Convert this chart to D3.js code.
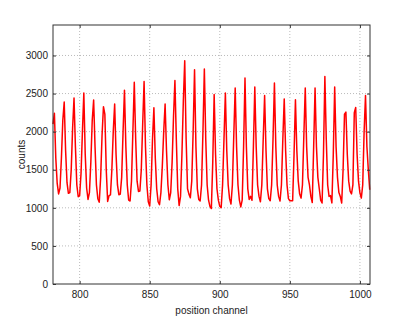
<!DOCTYPE html>
<html>
<head>
<meta charset="utf-8">
<script src="https://cdn.jsdelivr.net/npm/d3@7"></script>
<style>
  body { margin: 0; background: #fff; }
  text { font-family: "Liberation Sans", Arial, sans-serif; }
</style>
</head>
<body>
<div id="chart"></div>
<script>
// counts per channel, starting at channel 781
var firstChannel = 781;
var counts = [
  2100, 2240, 1650, 1320, 1183, 1260, 1650, 2150, 2388, 1750,
  1330, 1190, 1200, 1500, 2050, 2441, 1800, 1300, 1145, 1160,
  1450, 2000, 2506, 1700, 1260, 1110, 1200, 1600, 2150, 2415,
  1800, 1300, 1120, 1075, 1400, 1950, 2327, 2230, 1500, 1084,
  1160, 1170, 1500, 2000, 2364, 1700, 1300, 1172, 1180, 1400,
  2000, 2545, 1800, 1300, 1100, 1090, 1350, 2000, 2648, 1900,
  1350, 1215, 1220, 1500, 2100, 2657, 1800, 1300, 1080, 1025,
  1300, 1900, 2314, 1650, 1250, 1080, 1041, 1200, 1550, 2000,
  2364, 1750, 1300, 1106, 1200, 1600, 2200, 2670, 1900, 1250,
  1030, 1150, 1700, 2400, 2930, 1900, 1250, 1180, 1132, 1350,
  2000, 2812, 1800, 1250, 1110, 1090, 1300, 2000, 2823, 1900,
  1300, 1100, 1020, 990, 1600, 2488, 1700, 1250, 1100, 1020,
  1003, 1300, 1900, 2506, 1750, 1300, 1120, 1050, 1300, 1950,
  2572, 1800, 1300, 1100, 1012, 1100, 1800, 2705, 1800, 1250,
  1110, 1150, 1100, 1800, 2585, 1800, 1300, 1150, 1080, 1300,
  1900, 2475, 1750, 1250, 1120, 1093, 1300, 1900, 2638, 1800,
  1300, 1150, 1090, 1300, 1900, 2430, 1750, 1300, 1120, 1093,
  1093, 1093, 1700, 2419, 1750, 1350, 1180, 1128, 1300, 1950,
  2572, 1800, 1400, 1300, 1150, 1070, 1800, 2572, 1800, 1400,
  1250, 1100, 1063, 1700, 2725, 1900, 1300, 1150, 1160, 1065,
  1700, 2585, 1800, 1400, 1200, 1150, 1063, 1500, 2230, 2257,
  1700, 1350, 1220, 1183, 1300, 2250, 2318, 1700, 1350, 1200,
  1128, 1300, 2000, 2473, 1800, 1500, 1237
];
var xTicks = [800, 850, 900, 950, 1000];
var yTicks = [0, 500, 1000, 1500, 2000, 2500, 3000];

var W = 409, H = 320;
var margin = {top: 25, right: 39, bottom: 36, left: 53};
var width = W - margin.left - margin.right,
    height = H - margin.top - margin.bottom;

var svg = d3.select("#chart").append("svg")
    .attr("width", W).attr("height", H)
  .append("g")
    .attr("transform", "translate(" + margin.left + "," + margin.top + ")");

var x = d3.scaleLinear().domain([781, 1007.2]).range([0, width]);
var y = d3.scaleLinear().domain([0, 3400]).range([height, 0]);

// dotted grid
svg.append("g").selectAll("line.gx")
    .data(xTicks).enter().append("line")
    .attr("x1", d => x(d)).attr("x2", d => x(d))
    .attr("y1", 0).attr("y2", height)
    .attr("stroke", "#bbb").attr("stroke-dasharray", "1,2");
svg.append("g").selectAll("line.gy")
    .data(yTicks.filter(d => d > 0)).enter().append("line")
    .attr("x1", 0).attr("x2", width)
    .attr("y1", d => y(d)).attr("y2", d => y(d))
    .attr("stroke", "#bbb").attr("stroke-dasharray", "1,2");

// data line
var line = d3.line()
    .x((d, i) => x(firstChannel + i))
    .y(d => y(d));
svg.append("path")
    .datum(counts)
    .attr("fill", "none")
    .attr("stroke", "#ff0000")
    .attr("stroke-width", 1.5)
    .attr("stroke-linejoin", "round")
    .attr("d", line);

// axes, ticks pointing inwards
function styleAxis(g) {
  g.select(".domain").remove();
  g.selectAll(".tick line").attr("stroke", "#333");
  g.selectAll(".tick text").attr("fill", "#222").style("font-size", "10px");
}
var fmt = d3.format("d");
svg.append("g")
    .attr("transform", "translate(0," + height + ")")
    .call(d3.axisBottom(x).tickValues(xTicks).tickSize(-3).tickPadding(7).tickFormat(fmt))
    .call(styleAxis);
svg.append("g")
    .call(d3.axisTop(x).tickValues(xTicks).tickSize(-3).tickFormat(""))
    .call(styleAxis);
svg.append("g")
    .call(d3.axisLeft(y).tickValues(yTicks).tickSize(-3).tickPadding(5).tickFormat(fmt))
    .call(styleAxis);
svg.append("g")
    .attr("transform", "translate(" + width + ",0)")
    .call(d3.axisRight(y).tickValues(yTicks).tickSize(-3).tickFormat(""))
    .call(styleAxis);

// frame
svg.append("rect")
    .attr("width", width).attr("height", height)
    .attr("fill", "none").attr("stroke", "#333").attr("stroke-width", 1);

// axis labels
svg.append("text")
    .attr("x", width / 2).attr("y", height + 30)
    .attr("text-anchor", "middle")
    .style("font-size", "10px").attr("fill", "#222")
    .text("position channel");
svg.append("text")
    .attr("transform", "rotate(-90)")
    .attr("x", -height / 2).attr("y", -28)
    .attr("text-anchor", "middle")
    .style("font-size", "10px").attr("fill", "#222")
    .text("counts");
</script>
</body>
</html>
